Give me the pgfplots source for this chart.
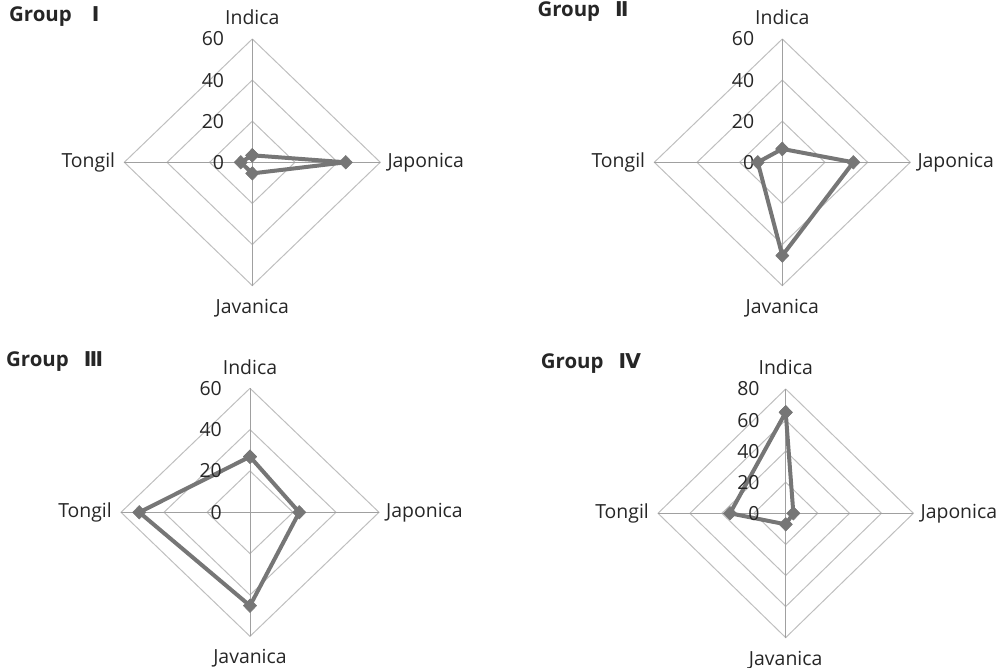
\documentclass[border=0pt]{standalone}
\usepackage{pgfplots}
\pgfplotsset{compat=1.18}
\usepackage{fontspec}
\setmainfont{Open Sans}
\newfontfamily\romfont{DejaVu Sans}
\definecolor{gridc}{HTML}{BFBFBF}
\definecolor{spokec}{HTML}{A0A0A0}
\definecolor{serc}{HTML}{767676}
\pgfplotsset{
  radar/.style={scale only axis, hide axis, clip=false, anchor=origin,
    xmin=-#1, xmax=#1, ymin=-#1, ymax=#1},
  ring/.style={gridc, line width=1bp, mark=none, forget plot},
  spoke/.style={spokec, line width=1bp, mark=none, forget plot},
  series/.style={serc, line width=4bp, line join=round, mark=diamond*,
    mark size=6.8bp, mark options={solid, xscale=1.3, fill=serc, draw=serc, line width=0.5bp}},
}
\tikzset{lab/.style={inner sep=0pt, text=black!85}}
\newcommand\ttl{\fontsize{20.5}{24}\selectfont\bfseries}
\begin{document}
\begin{tikzpicture}[font=\fontsize{19.5}{23}\selectfont]
\useasboundingbox (0,0) rectangle (999bp,668bp);

% titles
\node[lab, anchor=base west, font=\ttl] at (9bp,646.3bp) {Group\hspace{20bp}{\romfont\bfseries Ⅰ}};
\node[lab, anchor=base west, font=\ttl] at (537.3bp,651bp) {Group\hspace{15bp}{\romfont\bfseries Ⅱ}};
\node[lab, anchor=base west, font=\ttl] at (6bp,301.3bp) {Group\hspace{15bp}{\romfont\bfseries Ⅲ}};
\node[lab, anchor=base west, font=\ttl] at (540.7bp,299.7bp) {Group\hspace{15bp}{\romfont\bfseries Ⅳ}};

% ---------- Group I ----------
\begin{axis}[radar=60, at={(252.3bp,505.7bp)}, width=256bp, height=246.6bp]
\addplot[ring] coordinates {(0,20) (20,0) (0,-20) (-20,0) (0,20)};
\addplot[ring] coordinates {(0,40) (40,0) (0,-40) (-40,0) (0,40)};
\addplot[ring] coordinates {(0,60) (60,0) (0,-60) (-60,0) (0,60)};
\addplot[spoke] coordinates {(0,60) (0,-60)};
\addplot[spoke] coordinates {(-60,0) (60,0)};
\addplot[series] coordinates {(0,3.4) (43.8,0) (0,-5.4) (-5.4,0) (0,3.4)};
\node[lab, anchor=east, xshift=-28bp] at (axis cs:0,0) {0};
\node[lab, anchor=east, xshift=-28bp] at (axis cs:0,20) {20};
\node[lab, anchor=east, xshift=-28bp] at (axis cs:0,40) {40};
\node[lab, anchor=east, xshift=-28bp] at (axis cs:0,60) {60};
\node[lab, anchor=base, yshift=14bp] at (axis cs:0,60) {Indica};
\node[lab, anchor=west, xshift=7bp] at (axis cs:60,0) {Japonica};
\node[lab, anchor=north, yshift=-13bp] at (axis cs:0,-60) {Javanica};
\node[lab, anchor=east, xshift=-9bp] at (axis cs:-60,0) {Tongil};
\end{axis}

% ---------- Group II ----------
\begin{axis}[radar=60, at={(782.3bp,505.7bp)}, width=256bp, height=246.6bp]
\addplot[ring] coordinates {(0,20) (20,0) (0,-20) (-20,0) (0,20)};
\addplot[ring] coordinates {(0,40) (40,0) (0,-40) (-40,0) (0,40)};
\addplot[ring] coordinates {(0,60) (60,0) (0,-60) (-60,0) (0,60)};
\addplot[spoke] coordinates {(0,60) (0,-60)};
\addplot[spoke] coordinates {(-60,0) (60,0)};
\addplot[series] coordinates {(0,6.5) (33.3,0) (0,-45.4) (-11.5,0) (0,6.5)};
\node[lab, anchor=east, xshift=-28bp] at (axis cs:0,0) {0};
\node[lab, anchor=east, xshift=-28bp] at (axis cs:0,20) {20};
\node[lab, anchor=east, xshift=-28bp] at (axis cs:0,40) {40};
\node[lab, anchor=east, xshift=-28bp] at (axis cs:0,60) {60};
\node[lab, anchor=base, yshift=14bp] at (axis cs:0,60) {Indica};
\node[lab, anchor=west, xshift=7bp] at (axis cs:60,0) {Japonica};
\node[lab, anchor=north, yshift=-13bp] at (axis cs:0,-60) {Javanica};
\node[lab, anchor=east, xshift=-9bp] at (axis cs:-60,0) {Tongil};
\end{axis}

% ---------- Group III ----------
\begin{axis}[radar=60, at={(250bp,155.7bp)}, width=258bp, height=248bp]
\addplot[ring] coordinates {(0,20) (20,0) (0,-20) (-20,0) (0,20)};
\addplot[ring] coordinates {(0,40) (40,0) (0,-40) (-40,0) (0,40)};
\addplot[ring] coordinates {(0,60) (60,0) (0,-60) (-60,0) (0,60)};
\addplot[spoke] coordinates {(0,60) (0,-60)};
\addplot[spoke] coordinates {(-60,0) (60,0)};
\addplot[series] coordinates {(0,26.9) (22.9,0) (0,-45.2) (-51.5,0) (0,26.9)};
\node[lab, anchor=east, xshift=-28bp] at (axis cs:0,0) {0};
\node[lab, anchor=east, xshift=-28bp] at (axis cs:0,20) {20};
\node[lab, anchor=east, xshift=-28bp] at (axis cs:0,40) {40};
\node[lab, anchor=east, xshift=-28bp] at (axis cs:0,60) {60};
\node[lab, anchor=base, yshift=14bp] at (axis cs:0,60) {Indica};
\node[lab, anchor=west, xshift=7bp] at (axis cs:60,0) {Japonica};
\node[lab, anchor=north, yshift=-13bp] at (axis cs:0,-60) {Javanica};
\node[lab, anchor=east, xshift=-9bp] at (axis cs:-60,0) {Tongil};
\end{axis}

% ---------- Group IV ----------
\begin{axis}[radar=80, at={(785.7bp,154.7bp)}, width=255.4bp, height=248.6bp]
\addplot[ring] coordinates {(0,20) (20,0) (0,-20) (-20,0) (0,20)};
\addplot[ring] coordinates {(0,40) (40,0) (0,-40) (-40,0) (0,40)};
\addplot[ring] coordinates {(0,60) (60,0) (0,-60) (-60,0) (0,60)};
\addplot[ring] coordinates {(0,80) (80,0) (0,-80) (-80,0) (0,80)};
\addplot[spoke] coordinates {(0,80) (0,-80)};
\addplot[spoke] coordinates {(-80,0) (80,0)};
\addplot[series] coordinates {(0,65) (4.8,0) (0,-7.1) (-34.9,0) (0,65)};
\node[lab, anchor=east, xshift=-26bp] at (axis cs:0,0) {0};
\node[lab, anchor=east, xshift=-26bp] at (axis cs:0,20) {20};
\node[lab, anchor=east, xshift=-26bp] at (axis cs:0,40) {40};
\node[lab, anchor=east, xshift=-26bp] at (axis cs:0,60) {60};
\node[lab, anchor=east, xshift=-26bp] at (axis cs:0,80) {80};
\node[lab, anchor=base, yshift=14bp] at (axis cs:0,80) {Indica};
\node[lab, anchor=west, xshift=7bp] at (axis cs:80,0) {Japonica};
\node[lab, anchor=north, yshift=-13bp] at (axis cs:0,-80) {Javanica};
\node[lab, anchor=east, xshift=-9bp] at (axis cs:-80,0) {Tongil};
\end{axis}
\end{tikzpicture}
\end{document}
